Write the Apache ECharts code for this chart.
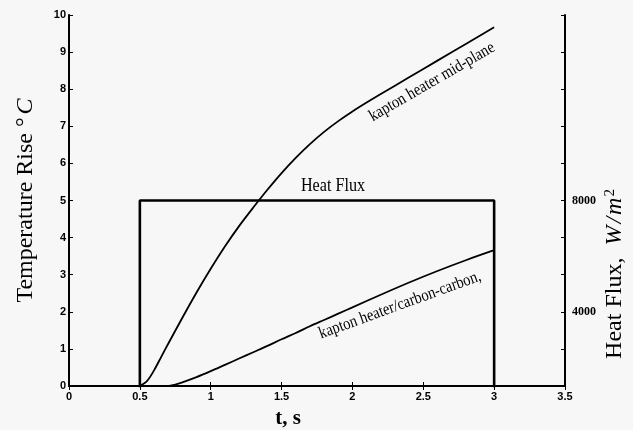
<!DOCTYPE html>
<html>
<head>
<meta charset="utf-8">
<script src="https://cdn.jsdelivr.net/npm/echarts@6/dist/echarts.min.js"></script>
<style>
  html, body { margin: 0; padding: 0; background: #f7f7f7; }
  #chart { width: 633px; height: 430px; }
</style>
</head>
<body>
<div id="chart"></div>
<script>
// Temperature rise at the kapton heater mid-plane (deg C) vs time (s)
const midTimes = [0.5, 0.55, 0.6, 0.65, 0.7, 0.8, 0.9, 1.0, 1.1, 1.2, 1.3, 1.4, 1.5,
                  1.6, 1.7, 1.8, 1.9, 2.0, 2.1, 2.2, 2.4, 2.6, 2.8, 3.0];
const midTemps = [0, 0.13, 0.42, 0.78, 1.14, 1.84, 2.52, 3.16, 3.76, 4.31, 4.81, 5.29, 5.74,
                  6.15, 6.52, 6.85, 7.14, 7.40, 7.64, 7.87, 8.32, 8.77, 9.22, 9.67];

// Temperature rise at the kapton heater / carbon-carbon interface
const ccTimes = [0.5, 0.6, 0.7, 0.75, 0.8, 0.9, 1.0, 1.1, 1.2, 1.3, 1.4, 1.5, 1.6, 1.7,
                 1.8, 1.9, 2.0, 2.2, 2.4, 2.6, 2.8, 3.0];
const ccTemps = [0, 0, 0, 0.04, 0.10, 0.24, 0.40, 0.57, 0.74, 0.91, 1.08, 1.26, 1.43, 1.61,
                 1.78, 1.95, 2.12, 2.46, 2.79, 3.10, 3.39, 3.66];

// Applied heat flux pulse (W/m^2)
const fluxTimes = [0.5, 0.5, 3.0, 3.0];
const fluxValues = [0, 8000, 8000, 0];

// Labelled ticks on the heat-flux axis
const fluxTickLabels = [4000, 8000];

const pair = (xs, ys) => xs.map((x, i) => [x, ys[i]]);

// Heat-flux axis: 4000 W/m^2 spans three temperature units
const fluxStep = 4000 / 3;
const fluxMin = fluxStep;
const fluxMax = fluxStep * 11;

const serif = '"Liberation Serif", "Times New Roman", serif';
const sans = '"Liberation Sans", Arial, sans-serif';

const chart = echarts.init(document.getElementById('chart'), null, { renderer: 'canvas' });

chart.setOption({
  backgroundColor: '#f7f7f7',
  animation: false,
  grid: { left: 69, right: 68, top: 15, bottom: 44 },
  xAxis: [
    {
      type: 'value', min: 0, max: 3.5, interval: 0.5, position: 'bottom',
      axisLine: { show: true, onZero: false, lineStyle: { color: '#000', width: 2 } },
      axisTick: { show: true, inside: true, length: 4, lineStyle: { color: '#000', width: 1 } },
      axisLabel: { color: '#000', fontFamily: sans, fontWeight: 'bold', fontSize: 11, margin: 5 },
      splitLine: { show: false }
    },
    {
      type: 'value', min: 0, max: 3.5, interval: 0.5, position: 'top',
      axisLine: { show: true, lineStyle: { color: '#000', width: 2 } },
      axisTick: { show: true, inside: true, length: 4, lineStyle: { color: '#000', width: 1 } },
      axisLabel: { show: false },
      splitLine: { show: false }
    }
  ],
  yAxis: [
    {
      type: 'value', min: 0, max: 10, interval: 1, position: 'left',
      name: '{a|Temperature Rise °}{i|C}',
      nameLocation: 'middle', nameGap: 31, nameRotate: 90,
      nameTextStyle: {
        rich: {
          a: { fontFamily: serif, fontSize: 24, color: '#000' },
          i: { fontFamily: serif, fontSize: 24, fontStyle: 'italic', color: '#000', padding: [0, 0, 0, 3] }
        }
      },
      axisLine: { show: true, onZero: false, lineStyle: { color: '#000', width: 2 } },
      axisTick: { show: true, inside: true, length: 4, lineStyle: { color: '#000', width: 1 } },
      axisLabel: { color: '#000', fontFamily: sans, fontWeight: 'bold', fontSize: 11, margin: 3 },
      splitLine: { show: false }
    },
    {
      type: 'value', min: fluxMin, max: fluxMax, interval: fluxStep, position: 'right',
      axisLine: { show: true, onZero: false, lineStyle: { color: '#000', width: 2 } },
      axisTick: { show: true, inside: true, length: 4, lineStyle: { color: '#000', width: 1 } },
      axisLabel: {
        color: '#000', fontFamily: serif, fontWeight: 'bold', fontSize: 12, margin: 7,
        formatter: v => {
          const hit = fluxTickLabels.find(l => Math.abs(l - v) < 1);
          return hit === undefined ? '' : String(hit);
        }
      },
      splitLine: { show: false }
    }
  ],
  series: [
    {
      name: 'Heat Flux', type: 'line', xAxisIndex: 0, yAxisIndex: 1,
      data: pair(fluxTimes, fluxValues), showSymbol: false, clip: true,
      lineStyle: { color: '#000', width: 2.6 }
    },
    {
      name: 'kapton heater mid-plane', type: 'line', xAxisIndex: 0, yAxisIndex: 0,
      data: pair(midTimes, midTemps), showSymbol: false, smooth: 0.3, clip: true,
      lineStyle: { color: '#000', width: 1.8 }
    },
    {
      name: 'kapton heater/carbon-carbon,', type: 'line', xAxisIndex: 0, yAxisIndex: 0,
      data: pair(ccTimes, ccTemps), showSymbol: false, smooth: 0.3, clip: true,
      lineStyle: { color: '#000', width: 1.8 }
    }
  ],
  graphic: [
    {
      type: 'text', x: 432, y: 82, rotation: 30 * Math.PI / 180, scaleX: 0.86,
      style: { text: 'kapton heater mid-plane', fontFamily: serif, fontSize: 17,
               fill: '#000', align: 'center', verticalAlign: 'middle' }
    },
    {
      type: 'text', x: 400, y: 305, rotation: 20 * Math.PI / 180, scaleX: 0.86,
      style: { text: 'kapton heater/carbon-carbon,', fontFamily: serif, fontSize: 17,
               fill: '#000', align: 'center', verticalAlign: 'middle' }
    },
    {
      type: 'text', x: 333, y: 186, scaleX: 0.85,
      style: { text: 'Heat Flux', fontFamily: serif, fontSize: 19,
               fill: '#000', align: 'center', verticalAlign: 'middle' }
    },
    {
      type: 'text', x: 288, y: 419,
      style: { text: 't, s', fontFamily: serif, fontSize: 21, fontWeight: 'bold',
               fill: '#000', align: 'center', verticalAlign: 'middle' }
    },
    {
      type: 'text', x: 615, y: 274, rotation: Math.PI / 2,
      style: {
        text: '{a|Heat Flux,  }{i|W\u200A/\u200Am}{s|2}',
        align: 'center', verticalAlign: 'middle',
        rich: {
          a: { fontFamily: serif, fontSize: 24, fill: '#000' },
          i: { fontFamily: serif, fontSize: 24, fontStyle: 'italic', fill: '#000' },
          s: { fontFamily: serif, fontSize: 15, fill: '#000', verticalAlign: 'top', padding: [0, 0, 10, 1] }
        }
      }
    }
  ]
});
</script>
</body>
</html>
